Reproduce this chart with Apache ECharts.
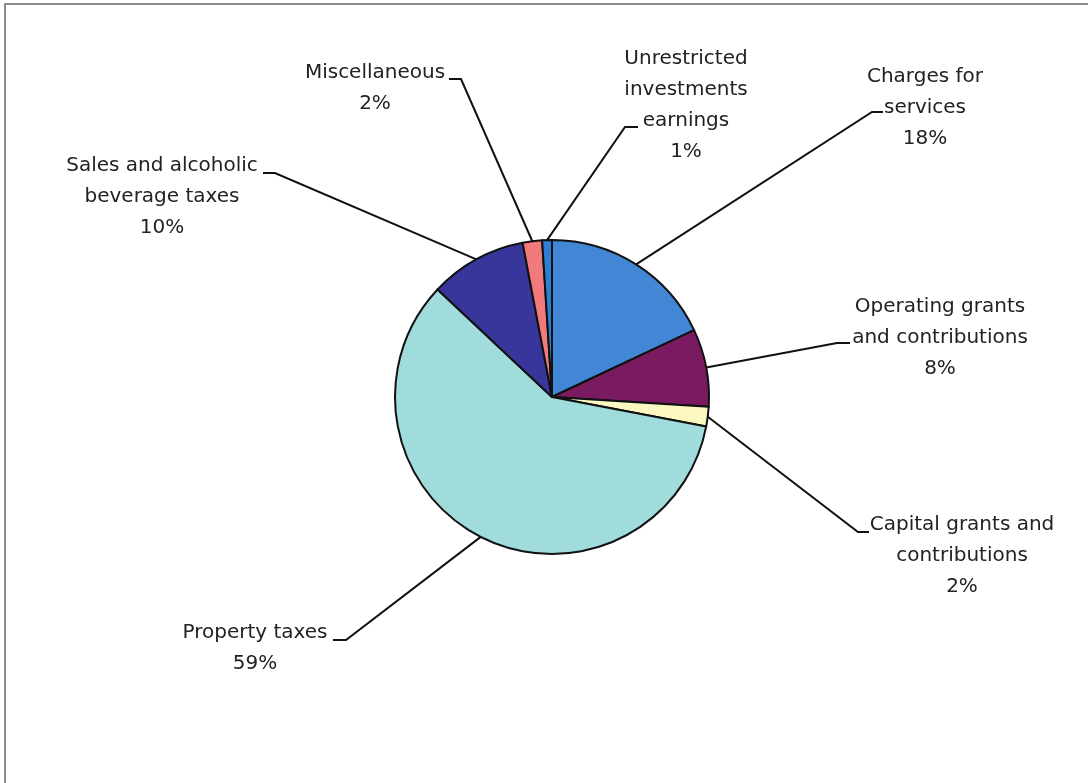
<!DOCTYPE html>
<html style="height: 100%">
<head>
<meta charset="utf-8">
<script src="https://cdn.jsdelivr.net/npm/echarts@6/dist/echarts.min.js"></script>
</head>
<body style="height: 100%; margin: 0; background: #fff">
<div id="container" style="width: 1088px; height: 783px"></div>
<script type="text/javascript">
// revenue sources, clockwise from 12 o'clock
var categories = [
  'Charges for services',
  'Operating grants and contributions',
  'Capital grants and contributions',
  'Property taxes',
  'Sales and alcoholic beverage taxes',
  'Miscellaneous',
  'Unrestricted investments earnings'
];
var labelText = [
  'Charges for\nservices',
  'Operating grants\nand contributions',
  'Capital grants and\ncontributions',
  'Property taxes',
  'Sales and alcoholic\nbeverage taxes',
  'Miscellaneous',
  'Unrestricted\ninvestments\nearnings'
];
var percents = [18, 8, 2, 59, 10, 2, 1];
var colors = ['#4286d6', '#7a1b62', '#fcf8c2', '#a0dcdb', '#38369a', '#f07a7c', '#2c7fd2'];

// where each label block sits, and its leader line elbow / end
var labelPos = [
  {x: 925, y: 108, elbow: [872, 112], end: [883, 112]},
  {x: 940, y: 338, elbow: [837, 343], end: [850, 343]},
  {x: 962, y: 556, elbow: [858, 532], end: [869, 532]},
  {x: 255, y: 648, elbow: [346, 640], end: [333, 640]},
  {x: 162, y: 197, elbow: [275, 173], end: [263, 173]},
  {x: 375, y: 88, elbow: [461, 79], end: [449, 79]},
  {x: 686, y: 105, elbow: [625, 127], end: [638, 127]}
];

var dom = document.getElementById('container');
var myChart = echarts.init(dom);

var option = {
  backgroundColor: '#fff',
  animation: false,
  textStyle: { fontFamily: 'DejaVu Sans' },
  graphic: [{
    type: 'rect',
    shape: { x: 5, y: 4, width: 1200, height: 1000 },
    style: { fill: 'none', stroke: '#8c8c8c', lineWidth: 2 },
    silent: true
  }],
  series: [{
    type: 'pie',
    center: [552, 397],
    radius: 157,
    startAngle: 90,
    clockwise: true,
    data: categories.map(function (name, i) {
      return { name: name, value: percents[i], itemStyle: { color: colors[i] } };
    }),
    itemStyle: { borderColor: '#111', borderWidth: 2 },
    label: {
      show: true,
      position: 'outside',
      color: '#222',
      fontSize: 20,
      lineHeight: 31,
      align: 'center',
      formatter: function (p) {
        return labelText[p.dataIndex] + '\n' + Math.round(p.percent) + '%';
      }
    },
    labelLine: {
      show: true,
      lineStyle: { color: '#111', width: 2 }
    },
    labelLayout: function (params) {
      var p = labelPos[params.dataIndex];
      var pts = params.labelLinePoints;
      return {
        x: p.x,
        y: p.y,
        align: 'center',
        verticalAlign: 'middle',
        labelLinePoints: [pts[0], p.elbow, p.end]
      };
    },
    emphasis: { disabled: true }
  }]
};

myChart.setOption(option);
</script>
</body>
</html>
